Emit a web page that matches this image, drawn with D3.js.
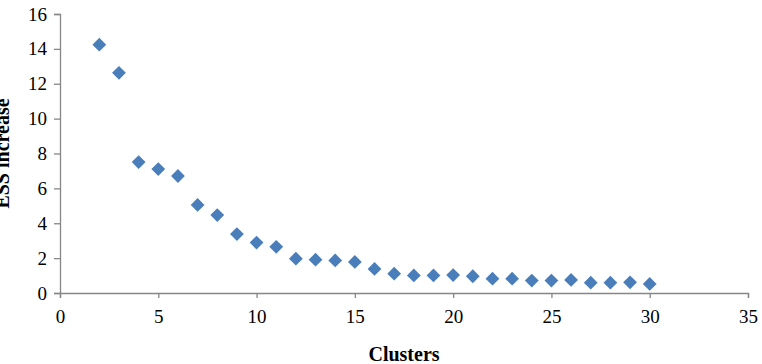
<!DOCTYPE html>
<html>
<head>
<meta charset="utf-8">
<script src="https://cdn.jsdelivr.net/npm/d3@7"></script>
<style>
  html, body { margin: 0; padding: 0; background: #fff; }
  svg { display: block; }
</style>
</head>
<body>
<div id="chart"></div>
<script>
// ── data ──────────────────────────────────────────────
const clusters = [2, 3, 4, 5, 6, 7, 8, 9, 10, 11, 12, 13, 14, 15, 16,
                  17, 18, 19, 20, 21, 22, 23, 24, 25, 26, 27, 28, 29, 30];
const essIncrease = [14.24, 12.63, 7.51, 7.11, 6.71, 5.05, 4.47, 3.38, 2.89, 2.65,
                     1.97, 1.91, 1.87, 1.78, 1.38, 1.11, 1.01, 1.01, 1.03, 0.96,
                     0.82, 0.82, 0.71, 0.71, 0.75, 0.59, 0.59, 0.61, 0.52];
const xTicks = [0, 5, 10, 15, 20, 25, 30, 35];
const yTicks = [0, 2, 4, 6, 8, 10, 12, 14, 16];

const W = 762, H = 364;
const margin = { left: 60, top: 14, right: 14, bottom: 71 };
const plotW = W - margin.left - margin.right;
const plotH = H - margin.top - margin.bottom;

const axisColor = "#868686";
const ptColor   = "#4a7ebb";
const font      = "'Liberation Serif', 'DejaVu Serif', serif";

const svg = d3.select("#chart").append("svg")
  .attr("width", W)
  .attr("height", H);

const g = svg.append("g")
  .attr("transform", `translate(${margin.left},${margin.top})`);

const x = d3.scaleLinear().domain([0, 35]).range([0, plotW]);
const y = d3.scaleLinear().domain([0, 16]).range([plotH, 0]);

// y axis
const yAxis = g.append("g")
  .call(d3.axisLeft(y).tickValues(yTicks).tickSize(6).tickPadding(7));
yAxis.select(".domain").attr("stroke", axisColor).attr("stroke-width", 1.3);
yAxis.selectAll(".tick line").attr("stroke", axisColor).attr("stroke-width", 1.3);
yAxis.selectAll("text")
  .attr("font-family", font)
  .attr("font-size", 19)
  .attr("fill", "#000");

// x axis
const xAxis = g.append("g")
  .attr("transform", `translate(0,${plotH})`)
  .call(d3.axisBottom(x).tickValues(xTicks).tickSize(5).tickPadding(12));
xAxis.select(".domain").attr("stroke", axisColor).attr("stroke-width", 1.3);
xAxis.selectAll(".tick line").attr("stroke", axisColor).attr("stroke-width", 1.3);
xAxis.selectAll("text")
  .attr("font-family", font)
  .attr("font-size", 19)
  .attr("fill", "#000");

// points (diamonds)
const diamond = d3.symbol().type(d3.symbolDiamond2).size(121);
g.selectAll("path.point")
  .data(clusters.map((c, i) => ({ c, v: essIncrease[i] })))
  .join("path")
    .attr("class", "point")
    .attr("d", diamond)
    .attr("transform", d => `translate(${x(d.c)},${y(d.v)})`)
    .attr("fill", ptColor);

// axis titles
svg.append("text")
  .attr("x", margin.left + x(17.5))
  .attr("y", 361)
  .attr("text-anchor", "middle")
  .attr("font-family", font)
  .attr("font-weight", "bold")
  .attr("font-size", 20)
  .text("Clusters");

svg.append("text")
  .attr("transform", `translate(9,${margin.top + plotH / 2}) rotate(-90)`)
  .attr("text-anchor", "middle")
  .attr("font-family", font)
  .attr("font-weight", "bold")
  .attr("font-size", 20)
  .text("ESS increase");
</script>
</body>
</html>
